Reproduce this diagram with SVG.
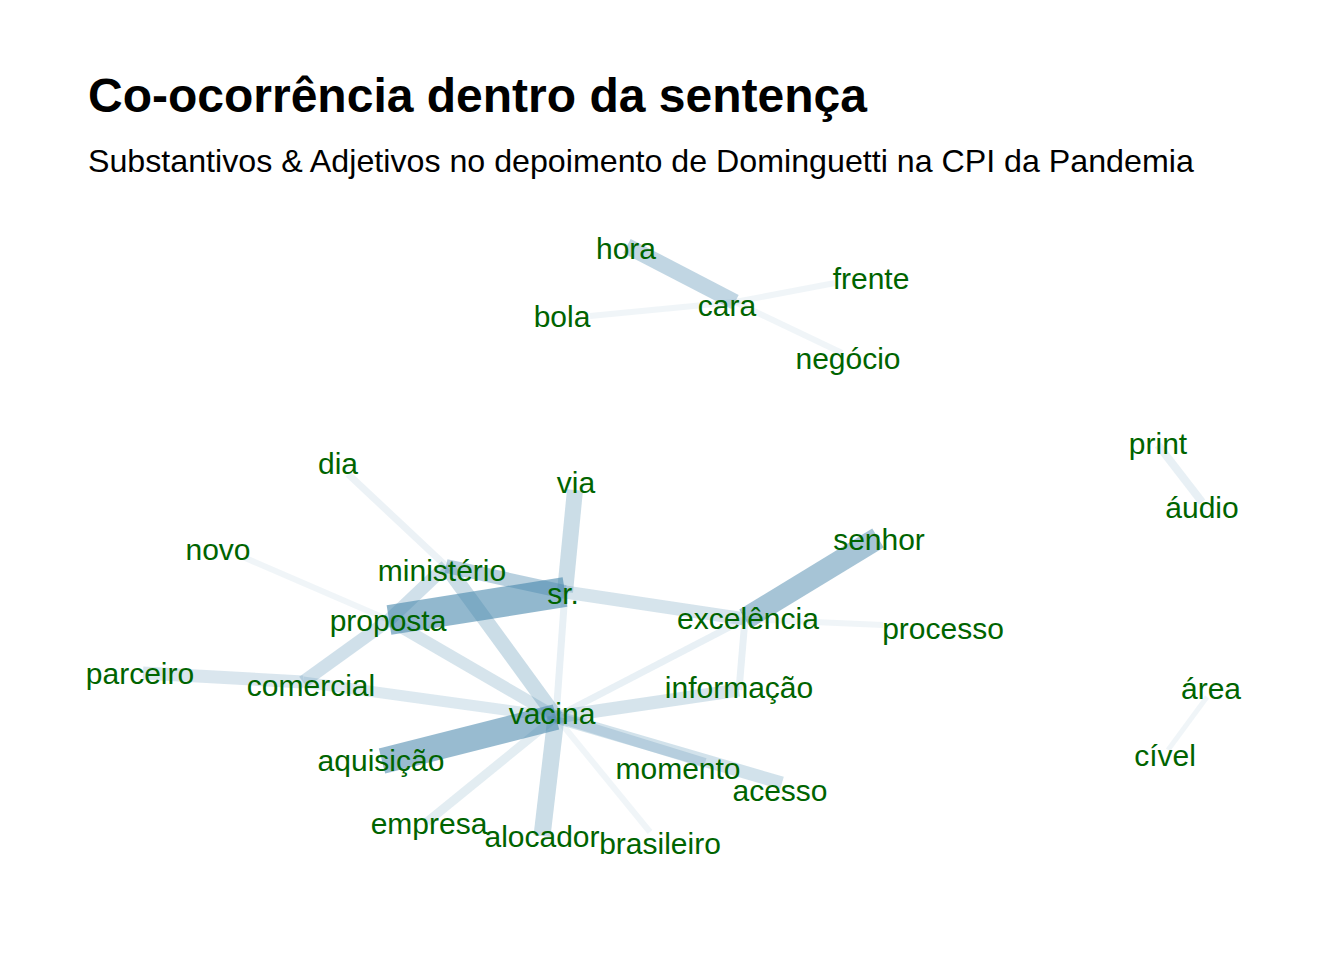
<svg xmlns="http://www.w3.org/2000/svg" width="1344" height="960" viewBox="0 0 1344 960">
<style>
.title{font-family:"Liberation Sans",Arial,sans-serif;font-weight:bold;font-size:48px;fill:#000}
.sub{font-family:"Liberation Sans",Arial,sans-serif;font-size:32.2px;fill:#000}
.lbl{font-family:"Liberation Sans",Arial,sans-serif;font-size:30px;fill:#006400;text-anchor:middle}
#edges line{stroke:#4484aa;stroke-linecap:butt}
</style>
<rect width="1344" height="960" fill="#fff"/>
<text class="title" x="88" y="112">Co-ocorrência dentro da sentença</text>
<text class="sub" x="88" y="172">Substantivos &amp; Adjetivos no depoimento de Dominguetti na CPI da Pandemia</text>
<g id="edges">
<line x1="627" y1="246" x2="735" y2="302" stroke-width="16" stroke-opacity="0.33"/>
<line x1="590" y1="316" x2="735" y2="302" stroke-width="6" stroke-opacity="0.08"/>
<line x1="835" y1="283" x2="735" y2="302" stroke-width="6" stroke-opacity="0.08"/>
<line x1="842" y1="353" x2="735" y2="302" stroke-width="6" stroke-opacity="0.08"/>
<line x1="1158" y1="445" x2="1202" y2="502" stroke-width="8" stroke-opacity="0.12"/>
<line x1="1207" y1="697" x2="1168" y2="750" stroke-width="5" stroke-opacity="0.08"/>
<line x1="348" y1="474" x2="446" y2="566" stroke-width="7" stroke-opacity="0.1"/>
<line x1="243" y1="557" x2="389" y2="620" stroke-width="6" stroke-opacity="0.08"/>
<line x1="143" y1="673" x2="303" y2="682" stroke-width="13" stroke-opacity="0.2"/>
<line x1="303" y1="682" x2="556" y2="717" stroke-width="11" stroke-opacity="0.18"/>
<line x1="303" y1="682" x2="389" y2="620" stroke-width="13" stroke-opacity="0.25"/>
<line x1="446" y1="566" x2="389" y2="620" stroke-width="13" stroke-opacity="0.25"/>
<line x1="389" y1="620" x2="556" y2="717" stroke-width="12" stroke-opacity="0.22"/>
<line x1="446" y1="566" x2="556" y2="717" stroke-width="15" stroke-opacity="0.28"/>
<line x1="446" y1="566" x2="565" y2="592" stroke-width="14" stroke-opacity="0.38"/>
<line x1="575" y1="490" x2="565" y2="592" stroke-width="16" stroke-opacity="0.28"/>
<line x1="565" y1="592" x2="556" y2="717" stroke-width="7" stroke-opacity="0.12"/>
<line x1="565" y1="592" x2="745" y2="619" stroke-width="13" stroke-opacity="0.22"/>
<line x1="745" y1="619" x2="878" y2="538" stroke-width="22" stroke-opacity="0.48"/>
<line x1="745" y1="619" x2="883" y2="625" stroke-width="6" stroke-opacity="0.08"/>
<line x1="745" y1="619" x2="739" y2="690" stroke-width="7" stroke-opacity="0.12"/>
<line x1="745" y1="619" x2="556" y2="717" stroke-width="7" stroke-opacity="0.12"/>
<line x1="556" y1="717" x2="739" y2="690" stroke-width="13" stroke-opacity="0.22"/>
<line x1="556" y1="717" x2="782" y2="783" stroke-width="13" stroke-opacity="0.24"/>
<line x1="556" y1="717" x2="705" y2="763" stroke-width="10" stroke-opacity="0.2"/>
<line x1="556" y1="717" x2="650" y2="832" stroke-width="6" stroke-opacity="0.08"/>
<line x1="556" y1="717" x2="542" y2="836" stroke-width="17" stroke-opacity="0.28"/>
<line x1="556" y1="717" x2="427" y2="822" stroke-width="9" stroke-opacity="0.15"/>
<line x1="389" y1="620" x2="565" y2="592" stroke-width="30" stroke-opacity="0.58"/>
<line x1="556" y1="717" x2="382" y2="761" stroke-width="26" stroke-opacity="0.55"/>
</g>
<g id="n-hora"><text class="lbl" x="626" y="259">hora</text></g>
<g id="n-frente"><text class="lbl" x="871" y="289">frente</text></g>
<g id="n-cara"><text class="lbl" x="727" y="316">cara</text></g>
<g id="n-bola"><text class="lbl" x="562" y="327">bola</text></g>
<g id="n-negocio"><text class="lbl" x="848" y="369">negócio</text></g>
<g id="n-print"><text class="lbl" x="1158" y="454">print</text></g>
<g id="n-audio"><text class="lbl" x="1202" y="518">áudio</text></g>
<g id="n-area"><text class="lbl" x="1211" y="699">área</text></g>
<g id="n-civel"><text class="lbl" x="1165" y="766">cível</text></g>
<g id="n-dia"><text class="lbl" x="338" y="474">dia</text></g>
<g id="n-via"><text class="lbl" x="576" y="493">via</text></g>
<g id="n-novo"><text class="lbl" x="218" y="560">novo</text></g>
<g id="n-ministerio"><text class="lbl" x="442" y="581">ministério</text></g>
<g id="n-sr"><text class="lbl" x="563" y="604">sr.</text></g>
<g id="n-proposta"><text class="lbl" x="388" y="631">proposta</text></g>
<g id="n-senhor"><text class="lbl" x="879" y="550">senhor</text></g>
<g id="n-excelencia"><text class="lbl" x="748" y="629">excelência</text></g>
<g id="n-processo"><text class="lbl" x="943" y="639">processo</text></g>
<g id="n-informacao"><text class="lbl" x="739" y="698">informação</text></g>
<g id="n-parceiro"><text class="lbl" x="140" y="684">parceiro</text></g>
<g id="n-comercial"><text class="lbl" x="311" y="696">comercial</text></g>
<g id="n-vacina"><text class="lbl" x="552" y="724">vacina</text></g>
<g id="n-aquisicao"><text class="lbl" x="381" y="771">aquisição</text></g>
<g id="n-momento"><text class="lbl" x="678" y="779">momento</text></g>
<g id="n-acesso"><text class="lbl" x="780" y="801">acesso</text></g>
<g id="n-empresa"><text class="lbl" x="429" y="834">empresa</text></g>
<g id="n-alocador"><text class="lbl" x="542" y="847">alocador</text></g>
<g id="n-brasileiro"><text class="lbl" x="660" y="854">brasileiro</text></g>
</svg>
